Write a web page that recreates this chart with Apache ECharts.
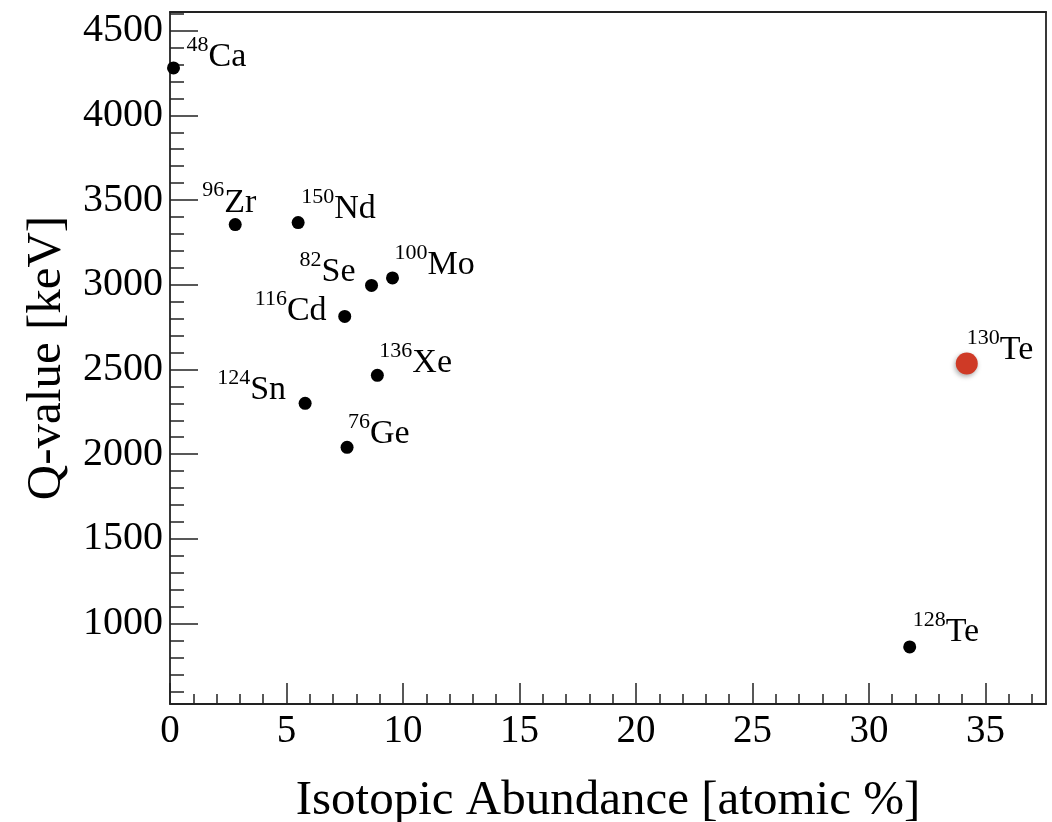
<!DOCTYPE html>
<html>
<head>
<meta charset="utf-8">
<script src="https://cdn.jsdelivr.net/npm/echarts@6/dist/echarts.min.js"></script>
<style>
html,body{margin:0;padding:0;background:#fff;}
#chart{width:1052px;height:822px;}
</style>
</head>
<body>
<div id="chart"></div>
<script>
// ---- data ----
const elements    = ['Ca', 'Zr', 'Nd', 'Se', 'Mo', 'Cd', 'Xe', 'Sn', 'Ge', 'Te', 'Te'];
const massNumbers = ['48', '96', '150', '82', '100', '116', '136', '124', '76', '130', '128'];
const abundance   = [0.15, 2.8, 5.5, 8.65, 9.55, 7.5, 8.9, 5.8, 7.6, 34.2, 31.75];
const qValue      = [4280, 3355, 3367, 2996, 3040, 2813, 2465, 2300, 2040, 2535, 862];
const highlightIndex = 9; // 130Te

const xTicks = [0, 5, 10, 15, 20, 25, 30, 35];
const yTicks = [1000, 1500, 2000, 2500, 3000, 3500, 4000, 4500];
const xMinorTicks = [];
for (let v = 1; v <= 37; v++) if (v % 5 !== 0) xMinorTicks.push(v);
const yMinorTicks = [];
for (let v = 600; v <= 4600; v += 100) if (v % 500 !== 0) yMinorTicks.push(v);

// label offsets (px) relative to marker centre: [dx to superscript left, dy to symbol centre]
const labelOffsets = [
  [13, -11], [-33, -22], [3, -13], [-72, -13], [2, -13], [-90, -5],
  [2, -12], [-88, -13], [1, -13], [0, -13], [3, -15]
];

const X_MIN = 0, X_MAX = 37.6, Y_MIN = 525, Y_MAX = 4610;
const FONT = 'Liberation Serif';
const AXIS_COLOR = '#222';
const TEXT_COLOR = '#000';

const chart = echarts.init(document.getElementById('chart'), null, {renderer: 'canvas'});

function buildData(indices, size) {
  return indices.map(i => ({
    value: [abundance[i], qValue[i]],
    label: {
      formatter: '{sup|' + massNumbers[i] + '}{el|' + elements[i] + '}',
      offset: [labelOffsets[i][0] - size / 2, labelOffsets[i][1]]
    }
  }));
}
const normalIdx = elements.map((_, i) => i).filter(i => i !== highlightIndex);

const labelStyle = {
  show: true,
  position: 'right',
  distance: 0,
  color: TEXT_COLOR,
  opacity: 1,
  rich: {
    sup: {fontFamily: FONT, fontSize: 22, color: TEXT_COLOR, verticalAlign: 'top', lineHeight: 22},
    el:  {fontFamily: FONT, fontSize: 34, color: TEXT_COLOR, lineHeight: 46}
  }
};

const option = {
  backgroundColor: '#fff',
  animation: false,
  grid: {left: 170, right: 6, top: 12, bottom: 118, containLabel: false, outerBoundsMode: 'none'},
  xAxis: [
    {
      type: 'value', min: X_MIN, max: X_MAX, position: 'bottom',
      name: 'Isotopic Abundance [atomic %]', nameLocation: 'middle', nameGap: 73,
      nameTextStyle: {fontFamily: FONT, fontSize: 49, color: TEXT_COLOR},
      axisLine: {show: true, onZero: false, lineStyle: {color: AXIS_COLOR, width: 1.8}},
      axisTick: {show: true, inside: true, length: 21, customValues: xTicks, lineStyle: {color: AXIS_COLOR, width: 1.5}},
      axisLabel: {show: true, customValues: xTicks, margin: 8, fontFamily: FONT, fontSize: 39, color: TEXT_COLOR,
        formatter: v => String(v)},
      splitLine: {show: false}
    },
    {
      type: 'value', min: X_MIN, max: X_MAX, position: 'bottom',
      axisLine: {show: false, onZero: false},
      axisTick: {show: true, inside: true, length: 10, customValues: xMinorTicks, lineStyle: {color: AXIS_COLOR, width: 1.5}},
      axisLabel: {show: false},
      splitLine: {show: false}
    },
    {
      type: 'value', min: X_MIN, max: X_MAX, position: 'top',
      axisLine: {show: true, onZero: false, lineStyle: {color: AXIS_COLOR, width: 1.8}},
      axisTick: {show: false}, axisLabel: {show: false}, splitLine: {show: false}
    }
  ],
  yAxis: [
    {
      type: 'value', min: Y_MIN, max: Y_MAX, position: 'left',
      name: 'Q-value [keV]', nameLocation: 'middle', nameGap: 76, nameRotate: 90,
      nameTextStyle: {fontFamily: FONT, fontSize: 49, color: TEXT_COLOR, padding: [0, 0, 12, 0]},
      axisLine: {show: true, onZero: false, lineStyle: {color: AXIS_COLOR, width: 1.8}},
      axisTick: {show: true, inside: true, length: 28, customValues: yTicks, lineStyle: {color: AXIS_COLOR, width: 1.5}},
      axisLabel: {show: true, customValues: yTicks, margin: 7, fontFamily: FONT, fontSize: 40, color: TEXT_COLOR,
        formatter: v => String(v)},
      splitLine: {show: false}
    },
    {
      type: 'value', min: Y_MIN, max: Y_MAX, position: 'left',
      axisLine: {show: false, onZero: false},
      axisTick: {show: true, inside: true, length: 14, customValues: yMinorTicks, lineStyle: {color: AXIS_COLOR, width: 1.5}},
      axisLabel: {show: false},
      splitLine: {show: false}
    },
    {
      type: 'value', min: Y_MIN, max: Y_MAX, position: 'right',
      axisLine: {show: true, onZero: false, lineStyle: {color: AXIS_COLOR, width: 1.8}},
      axisTick: {show: false}, axisLabel: {show: false}, splitLine: {show: false}
    }
  ],
  series: [
    {
      type: 'scatter', xAxisIndex: 0, yAxisIndex: 0,
      symbol: 'circle', symbolSize: 13, clip: false,
      itemStyle: {color: '#000', opacity: 1},
      label: labelStyle,
      emphasis: {disabled: true},
      data: buildData(normalIdx, 13)
    },
    {
      type: 'scatter', xAxisIndex: 0, yAxisIndex: 0,
      symbol: 'circle', symbolSize: 22, clip: false,
      itemStyle: {color: '#cf3a26', opacity: 1, shadowBlur: 5, shadowColor: 'rgba(0,0,0,0.35)', shadowOffsetY: 2, shadowOffsetX: -1},
      label: labelStyle,
      emphasis: {disabled: true},
      data: buildData([highlightIndex], 22)
    }
  ]
};
chart.setOption(option);
</script>
</body>
</html>
